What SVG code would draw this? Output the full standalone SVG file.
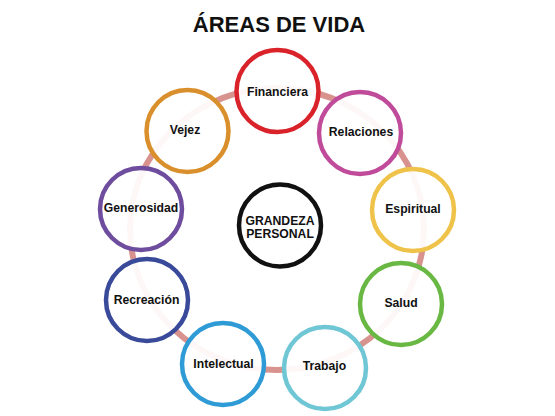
<svg xmlns="http://www.w3.org/2000/svg" width="555" height="416" viewBox="0 0 555 416">
<style>
.node{fill:#fff;fill-opacity:0.93;stroke-width:4.5}
.lbl{font-family:"Liberation Sans",Arial,sans-serif;font-weight:bold;font-size:12.2px;fill:#111;text-anchor:middle}
.ring{fill:none;stroke:#d8938f;stroke-width:6}
</style>
<rect width="555" height="416" fill="#fff"/>
<text x="279" y="32" font-family="Liberation Sans,Arial,sans-serif" font-weight="bold" font-size="22" text-anchor="middle" fill="#111">ÁREAS DE VIDA</text>
<g id="connectors">
<ellipse class="ring" cx="277" cy="229" rx="147" ry="141"/>
</g>
<g id="financiera"><circle class="node" cx="277.5" cy="91" r="41" stroke="#d9222a"/><text class="lbl" x="277.5" y="95.5">Financiera</text></g>
<g id="relaciones"><circle class="node" cx="360" cy="133" r="41" stroke="#c04b9b"/><text class="lbl" x="361" y="135.5">Relaciones</text></g>
<g id="espiritual"><circle class="node" cx="413" cy="210" r="41" stroke="#efc34a"/><text class="lbl" x="413" y="212.5">Espiritual</text></g>
<g id="salud"><circle class="node" cx="401" cy="304" r="41" stroke="#69b843"/><text class="lbl" x="401" y="306.5">Salud</text></g>
<g id="trabajo"><circle class="node" cx="325" cy="368" r="41" stroke="#6fc6d4"/><text class="lbl" x="324.5" y="369.5">Trabajo</text></g>
<g id="intelectual"><circle class="node" cx="223" cy="364" r="41" stroke="#2f9bd6"/><text class="lbl" x="223.5" y="367.5">Intelectual</text></g>
<g id="recreacion"><circle class="node" cx="147" cy="300" r="41" stroke="#3a4a9a"/><text class="lbl" x="146.5" y="303.5">Recreación</text></g>
<g id="generosidad"><circle class="node" cx="141" cy="209" r="41" stroke="#6f4d9e"/><text class="lbl" x="141" y="211.5">Generosidad</text></g>
<g id="vejez"><circle class="node" cx="187.5" cy="131" r="41" stroke="#d98f2b"/><text class="lbl" x="185" y="133.5">Vejez</text></g>
<g id="grandeza"><circle class="node" cx="280" cy="225.5" r="41" stroke="#111" fill-opacity="1"/><text class="lbl" x="280" y="225" font-size="10.6">GRANDEZA</text><text class="lbl" x="280" y="238" font-size="10.6">PERSONAL</text></g>
</svg>
